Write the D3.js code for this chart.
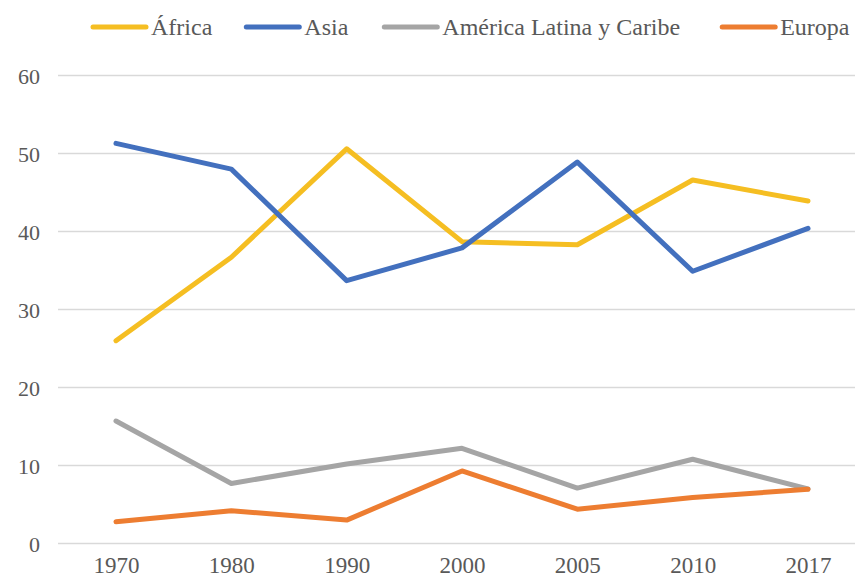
<!DOCTYPE html>
<html>
<head>
<meta charset="utf-8">
<script src="https://cdn.jsdelivr.net/npm/d3@7"></script>
<style>
  body { margin: 0; background: #fff; }
  svg text { font-family: 'Liberation Serif', 'Times New Roman', serif !important; fill: #595959; }
</style>
</head>
<body>
<script>
var width = 855,
    height = 578,
    margin = { top: 75, right: 0, bottom: 34, left: 58 };

// data
var years = ['1970', '1980', '1990', '2000', '2005', '2010', '2017'];
var africa  = [26.0, 36.7, 50.6, 38.7, 38.3, 46.6, 43.9];
var asia    = [51.3, 48.0, 33.7, 37.9, 48.9, 34.9, 40.4];
var latam   = [15.7, 7.7, 10.2, 12.2, 7.1, 10.8, 7.0];
var europa  = [2.8, 4.2, 3.0, 9.3, 4.4, 5.9, 6.95];
var seriesNames = ['África', 'Asia', 'América Latina y Caribe', 'Europa'];
var colors = ['#F5BE22', '#4370BE', '#A5A5A5', '#ED7D31'];
var yTicks = [0, 10, 20, 30, 40, 50, 60];

var series = [africa, asia, latam, europa].map(function(vals, i) {
  return { name: seriesNames[i], color: colors[i], values: vals };
});

var svg = d3.select('body').append('svg')
    .attr('width', width)
    .attr('height', height);

// categories are evenly spaced points
var xScale = d3.scalePoint().domain(years).range([116, 808]);
var yScale = d3.scaleLinear().domain([0, 60]).range([543.5, 75.5]);

// horizontal gridlines
svg.append('g')
  .selectAll('line')
  .data(yTicks)
  .enter().append('line')
    .attr('x1', margin.left)
    .attr('x2', width)
    .attr('y1', function(d) { return yScale(d); })
    .attr('y2', function(d) { return yScale(d); })
    .attr('stroke', '#D9D9D9')
    .attr('stroke-width', 1.5);

// y axis labels
var yAxis = svg.append('g')
    .attr('transform', 'translate(40,0)')
    .call(d3.axisLeft(yScale).tickValues(yTicks).tickSize(0).tickPadding(0));
yAxis.attr('font-family', null);
yAxis.select('.domain').remove();
yAxis.selectAll('text')
    .style('font-size', '22px')
    .attr('dy', '0.35em');

// x axis labels
var xAxis = svg.append('g')
    .attr('transform', 'translate(0,' + (height - 5) + ')')
    .call(d3.axisBottom(xScale).tickSize(0).tickPadding(0));
xAxis.attr('font-family', null);
xAxis.select('.domain').remove();
xAxis.selectAll('text')
    .attr('dy', null)
    .attr('y', 0)
    .style('font-size', '23px');

// lines
var line = d3.line()
    .x(function(d, i) { return xScale(years[i]); })
    .y(function(d) { return yScale(d); });

svg.append('g')
  .selectAll('path')
  .data(series)
  .enter().append('path')
    .attr('d', function(d) { return line(d.values); })
    .attr('fill', 'none')
    .attr('stroke', function(d) { return d.color; })
    .attr('stroke-width', 5)
    .attr('stroke-linecap', 'round')
    .attr('stroke-linejoin', 'round');

// legend, laid out left to right
var legend = svg.append('g').attr('transform', 'translate(0,27)');
var lx = 93;
var gaps = [34, 36, 42];
series.forEach(function(s, i) {
  var item = legend.append('g');
  item.append('line')
      .attr('x1', lx).attr('x2', lx + 53)
      .attr('y1', 0).attr('y2', 0)
      .attr('stroke', s.color)
      .attr('stroke-width', 5)
      .attr('stroke-linecap', 'round');
  var t = item.append('text')
      .attr('x', lx + 58)
      .attr('y', 0)
      .attr('dy', '0.35em')
      .style('font-size', '24px')
      .text(s.name);
  lx = lx + 58 + t.node().getComputedTextLength() + (gaps[i] || 0);
});
</script>
</body>
</html>
